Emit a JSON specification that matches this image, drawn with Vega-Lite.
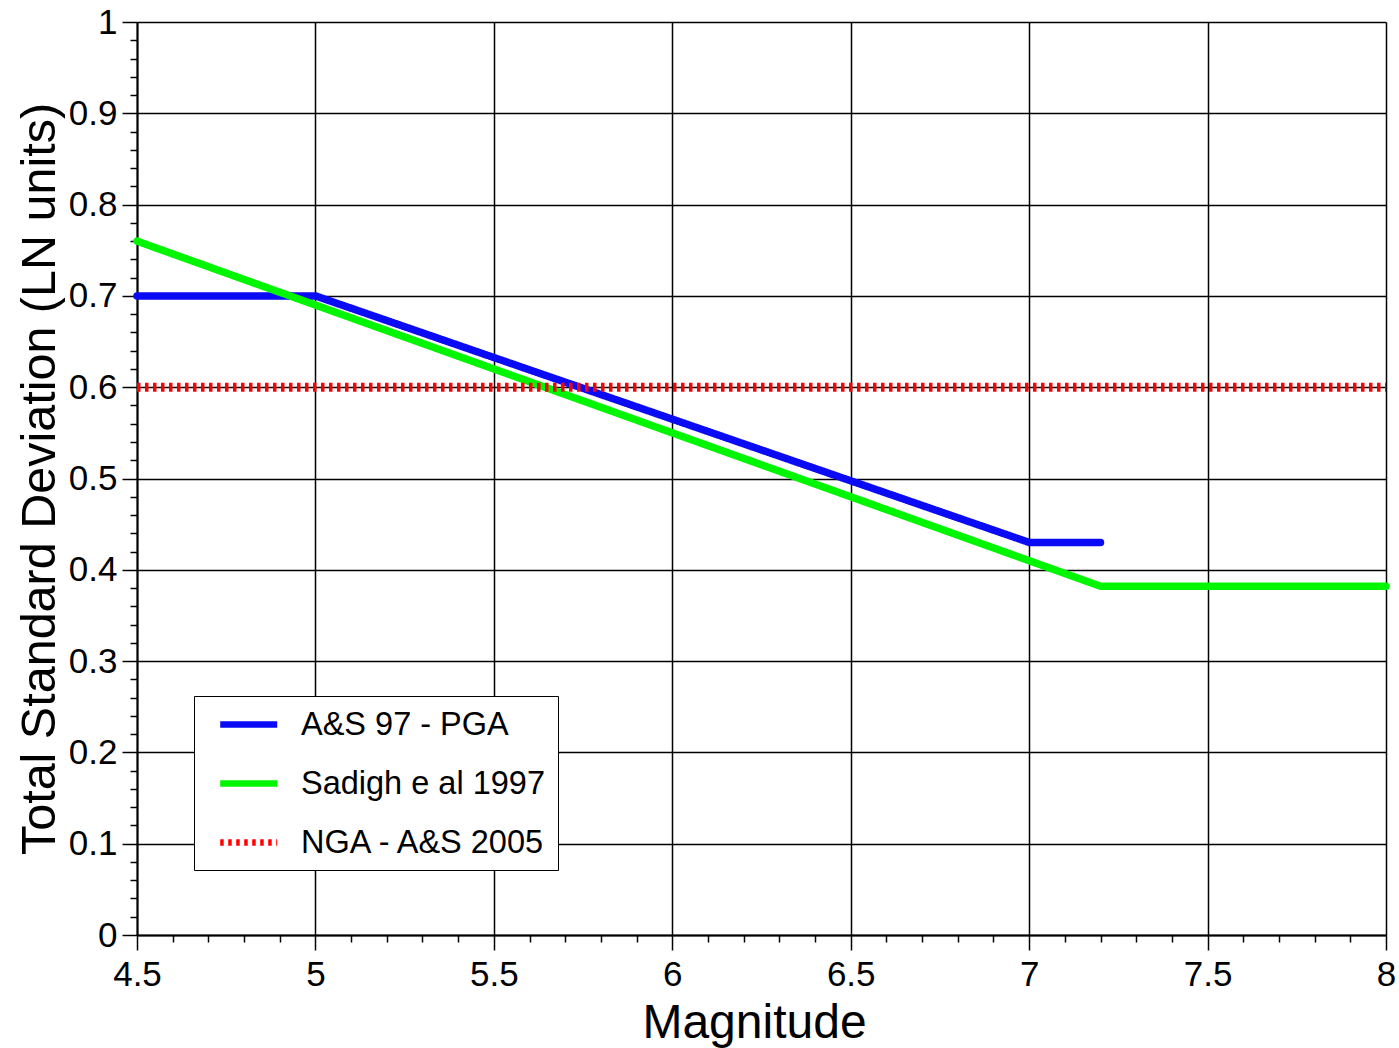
{
  "$schema": "https://vega.github.io/schema/vega-lite/v6.json",
  "width": 1249,
  "height": 913,
  "autosize": {"type": "none"},
  "padding": {"left": 137, "top": 22, "right": 13, "bottom": 113},
  "background": "white",
  "config": {
    "view": {"stroke": null},
    "font": "Liberation Sans",
    "axis": {
      "labelFont": "Liberation Sans",
      "titleFont": "Liberation Sans",
      "labelColor": "black",
      "titleColor": "black",
      "titleFontWeight": "normal",
      "tickColor": "black",
      "domainColor": "black"
    }
  },
  "data": {
    "values": [
      {"series": "A&S 97 - PGA", "magnitude": 4.5, "sigma": 0.7},
      {"series": "A&S 97 - PGA", "magnitude": 5.0, "sigma": 0.7},
      {"series": "A&S 97 - PGA", "magnitude": 7.0, "sigma": 0.43},
      {"series": "A&S 97 - PGA", "magnitude": 7.2, "sigma": 0.43},
      {"series": "Sadigh e al 1997", "magnitude": 4.5, "sigma": 0.76},
      {"series": "Sadigh e al 1997", "magnitude": 7.2, "sigma": 0.382},
      {"series": "Sadigh e al 1997", "magnitude": 8.0, "sigma": 0.382},
      {"series": "NGA - A&S 2005", "magnitude": 4.5, "sigma": 0.6},
      {"series": "NGA - A&S 2005", "magnitude": 8.0, "sigma": 0.6}
    ]
  },
  "resolve": {"axis": {"x": "independent", "y": "independent"}},
  "layer": [
    {
      "transform": [{"filter": "datum.series !== 'NGA - A&S 2005'"}],
      "mark": {"type": "line", "strokeWidth": 7.5, "strokeCap": "round", "strokeJoin": "round"},
      "encoding": {
        "x": {
          "field": "magnitude", "type": "quantitative",
          "scale": {"domain": [4.5, 8], "nice": false, "zero": false},
          "axis": {
            "values": [4.5, 5, 5.5, 6, 6.5, 7, 7.5, 8],
            "format": "~g",
            "title": "Magnitude",
            "grid": true, "gridColor": "black", "gridWidth": 1.5, "gridOpacity": 1,
            "domainWidth": 2, "tickSize": 15, "tickWidth": 1.5,
            "labelFontSize": 35, "labelPadding": 7, "labelFlush": false, "labelOverlap": false,
            "titleFontSize": 48, "titlePadding": 7, "titleX": 617
          }
        },
        "y": {
          "field": "sigma", "type": "quantitative",
          "scale": {"domain": [0, 1], "nice": false},
          "axis": {
            "values": [0, 0.1, 0.2, 0.3, 0.4, 0.5, 0.6, 0.7, 0.8, 0.9, 1],
            "format": "~g",
            "title": "Total Standard Deviation (LN units)",
            "grid": true, "gridColor": "black", "gridWidth": 1.5, "gridOpacity": 1,
            "domainWidth": 2, "tickSize": 15, "tickWidth": 1.5,
            "labelFontSize": 35, "labelPadding": 5, "labelFlush": false, "labelOverlap": false,
            "titleFontSize": 48.5, "titlePadding": 4
          }
        },
        "color": {
          "field": "series", "type": "nominal",
          "scale": {"domain": ["A&S 97 - PGA", "Sadigh e al 1997", "NGA - A&S 2005"], "range": ["#0a0af5", "#00f500", "#ff0000"]},
          "legend": {
            "title": null,
            "orient": "none",
            "legendX": 57,
            "legendY": 674,
            "fillColor": "white",
            "strokeColor": "black",
            "padding": 11,
            "symbolType": "M-0.16,0L3.84,0",
            "symbolSize": 812,
            "symbolStrokeWidth": 6.5,
            "labelFontSize": 32.5,
            "labelFont": "Liberation Sans",
            "labelColor": "black",
            "labelLimit": 0,
            "labelOffset": 61,
            "rowPadding": 25
          }
        },
        "strokeDash": {
          "field": "series", "type": "nominal",
          "scale": {"domain": ["A&S 97 - PGA", "Sadigh e al 1997", "NGA - A&S 2005"], "range": [[1, 0], [1, 0], [3.5, 4.5]]},
          "legend": null
        }
      }
    },
    {
      "transform": [{"filter": "datum.series === 'NGA - A&S 2005'"}],
      "mark": {"type": "line", "strokeWidth": 9, "strokeCap": "butt"},
      "encoding": {
        "x": {
          "field": "magnitude", "type": "quantitative",
          "axis": {
            "orient": "bottom",
            "values": [4.6, 4.7, 4.8, 4.9, 5.1, 5.2, 5.3, 5.4, 5.6, 5.7, 5.8, 5.9, 6.1, 6.2, 6.3, 6.4, 6.6, 6.7, 6.8, 6.9, 7.1, 7.2, 7.3, 7.4, 7.6, 7.7, 7.8, 7.9],
            "labels": false, "domain": false, "grid": false, "title": null,
            "tickSize": 7, "tickWidth": 1.5
          }
        },
        "y": {
          "field": "sigma", "type": "quantitative",
          "axis": {
            "orient": "left",
            "values": [0.02, 0.04, 0.06, 0.08, 0.12, 0.14, 0.16, 0.18, 0.22, 0.24, 0.26, 0.28, 0.32, 0.34, 0.36, 0.38, 0.42, 0.44, 0.46, 0.48, 0.52, 0.54, 0.56, 0.58, 0.62, 0.64, 0.66, 0.68, 0.72, 0.74, 0.76, 0.78, 0.82, 0.84, 0.86, 0.88, 0.92, 0.94, 0.96, 0.98],
            "labels": false, "domain": false, "grid": false, "title": null,
            "tickSize": 7, "tickWidth": 1.5
          }
        },
        "color": {"field": "series", "type": "nominal"},
        "strokeDash": {"field": "series", "type": "nominal"}
      }
    }
  ]
}
